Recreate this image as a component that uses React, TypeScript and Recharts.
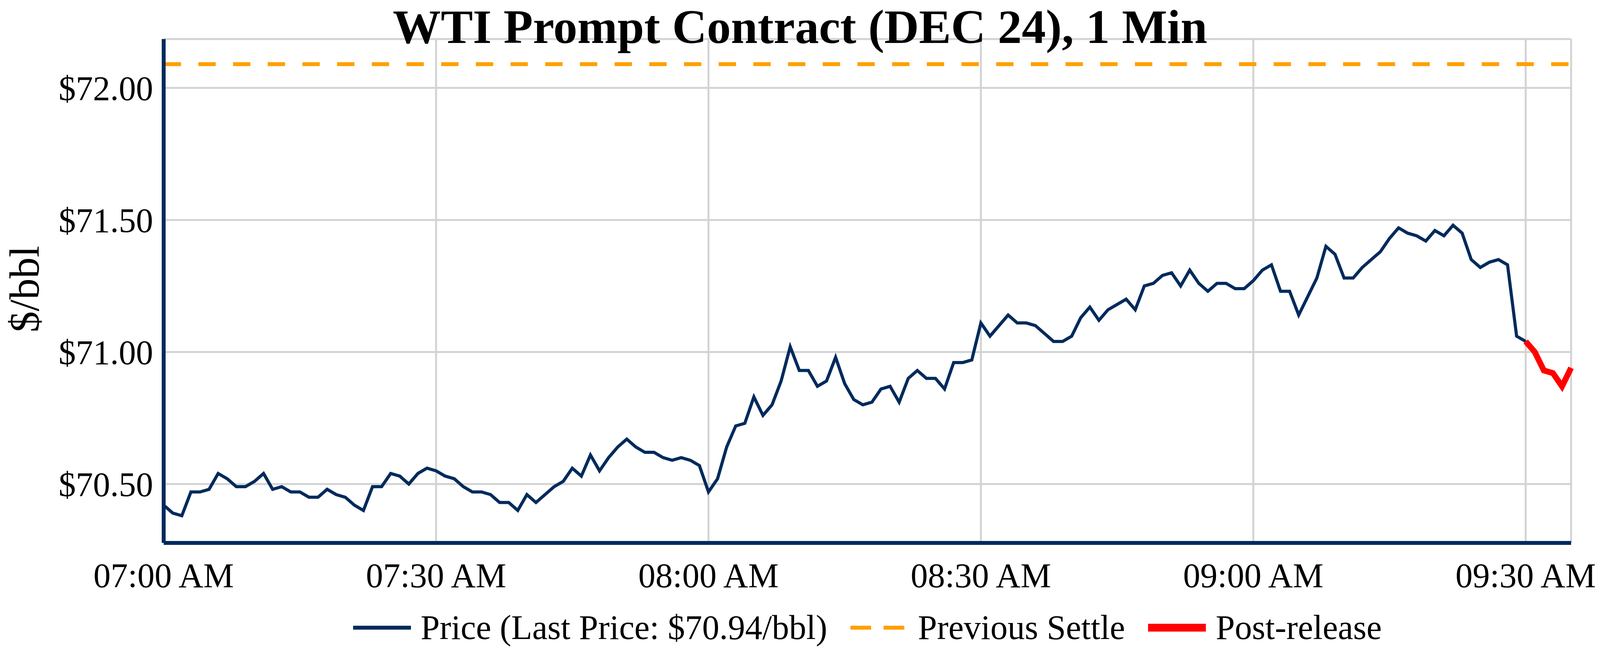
import React from "react";
import {
  LineChart,
  Line,
  XAxis,
  YAxis,
  CartesianGrid,
  ReferenceLine,
} from "recharts";

// 1-minute prices from 07:00 (minute 0) to 09:30 (minute 150)
const PRICE = [
  70.42, 70.39, 70.38, 70.47, 70.47, 70.48, 70.54, 70.52, 70.49, 70.49,
  70.51, 70.54, 70.48, 70.49, 70.47, 70.47, 70.45, 70.45, 70.48, 70.46,
  70.45, 70.42, 70.4, 70.49, 70.49, 70.54, 70.53, 70.5, 70.54, 70.56,
  70.55, 70.53, 70.52, 70.49, 70.47, 70.47, 70.46, 70.43, 70.43, 70.4,
  70.46, 70.43, 70.46, 70.49, 70.51, 70.56, 70.53, 70.61, 70.55, 70.6,
  70.64, 70.67, 70.64, 70.62, 70.62, 70.6, 70.59, 70.6, 70.59, 70.57,
  70.47, 70.52, 70.64, 70.72, 70.73, 70.83, 70.76, 70.8, 70.89, 71.02,
  70.93, 70.93, 70.87, 70.89, 70.98, 70.88, 70.82, 70.8, 70.81, 70.86,
  70.87, 70.81, 70.9, 70.93, 70.9, 70.9, 70.86, 70.96, 70.96, 70.97,
  71.11, 71.06, 71.1, 71.14, 71.11, 71.11, 71.1, 71.07, 71.04, 71.04,
  71.06, 71.13, 71.17, 71.12, 71.16, 71.18, 71.2, 71.16, 71.25, 71.26,
  71.29, 71.3, 71.25, 71.31, 71.26, 71.23, 71.26, 71.26, 71.24, 71.24,
  71.27, 71.31, 71.33, 71.23, 71.23, 71.14, 71.21, 71.28, 71.4, 71.37,
  71.28, 71.28, 71.32, 71.35, 71.38, 71.43, 71.47, 71.45, 71.44, 71.42,
  71.46, 71.44, 71.48, 71.45, 71.35, 71.32, 71.34, 71.35, 71.33, 71.06,
  71.04,
];

// post-release prices, 09:30 to 09:35
const POST_START = 150;
const POST_RELEASE = [71.04, 71.0, 70.93, 70.92, 70.87, 70.94];

const PREVIOUS_SETTLE = 72.09;
const LAST_PRICE = 70.94;

const TICK_MINUTES = [0, 30, 60, 90, 120, 150];
const TICK_LABELS = ["07:00 AM", "07:30 AM", "08:00 AM", "08:30 AM", "09:00 AM", "09:30 AM"];
const Y_TICKS = [70.5, 71.0, 71.5, 72.0];

const NAVY = "#002a5c";
const ORANGE = "#ffa000";
const RED = "#ff0000";
const GRID = "#d3d3d3";
const FONT = "'Liberation Serif', 'Times New Roman', serif";

// the browser viewport is 4096 wide
const W = 4096;
const H = 1700;
const AXIS_W = 419;
const RIGHT = 74;

const data = PRICE.map((p, i) => ({ minute: i, price: p as number | null, post: null as number | null }));
POST_RELEASE.forEach((v, j) => {
  const m = POST_START + j;
  if (data[m]) data[m].post = v;
  else data.push({ minute: m, price: null, post: v });
});

function LegendItem({ label, swatch }: { label: string; swatch: React.ReactNode }) {
  return (
    <div style={{ display: "flex", alignItems: "center", marginRight: 59 }}>
      <svg width={148} height={24} style={{ marginRight: 25, display: "block" }}>
        {swatch}
      </svg>
      <span>{label}</span>
    </div>
  );
}

export default function App() {
  return (
    <div style={{ position: "absolute", left: 0, top: 0, width: W, height: H, background: "#fff", overflow: "hidden" }}>
      <LineChart
        width={W}
        height={H}
        data={data}
        margin={{ top: 100, right: RIGHT, bottom: 0, left: 0 }}
      >
        <CartesianGrid stroke={GRID} strokeWidth={5} />
        <XAxis
          dataKey="minute"
          type="number"
          domain={[0, 155]}
          ticks={TICK_MINUTES}
          interval={0}
          tickFormatter={(v: number) => TICK_LABELS[TICK_MINUTES.indexOf(v)]}
          tick={{ fontSize: 88, fill: "#000", fontFamily: FONT }}
          tickLine={false}
          tickSize={0}
          tickMargin={51}
          axisLine={{ stroke: NAVY, strokeWidth: 10 }}
          height={310}
        />
        <YAxis
          type="number"
          domain={[70.277, 72.185]}
          allowDataOverflow
          ticks={Y_TICKS}
          interval={0}
          tickFormatter={(v: number) => `$${v.toFixed(2)}`}
          tick={{ fontSize: 88, fill: "#000", fontFamily: FONT }}
          tickLine={false}
          tickSize={0}
          tickMargin={27}
          axisLine={{ stroke: NAVY, strokeWidth: 10 }}
          width={AXIS_W}
        />
        <ReferenceLine
          y={PREVIOUS_SETTLE}
          stroke={ORANGE}
          strokeWidth={10}
          strokeDasharray="44.4 44.4"
        />
        <Line
          type="linear"
          dataKey="price"
          stroke={NAVY}
          strokeWidth={8}
          dot={false}
          activeDot={false}
          isAnimationActive={false}
        />
        <Line
          type="linear"
          dataKey="post"
          stroke={RED}
          strokeWidth={15}
          dot={false}
          activeDot={false}
          isAnimationActive={false}
        />
      </LineChart>

      <svg
        width={W}
        height={H}
        style={{ position: "absolute", left: 0, top: 0, pointerEvents: "none" }}
      >
        <text
          x={W / 2}
          y={110}
          textAnchor="middle"
          fontFamily={FONT}
          fontWeight="bold"
          fontSize={123}
          fill="#000"
        >
          WTI Prompt Contract (DEC 24), 1 Min
        </text>
        <text
          x={99}
          y={740}
          textAnchor="middle"
          fontFamily={FONT}
          fontSize={108}
          fill="#000"
          transform="rotate(-90, 99, 740)"
        >
          $/bbl
        </text>
      </svg>

      <div
        style={{
          position: "absolute",
          left: AXIS_W,
          width: W - AXIS_W - RIGHT,
          top: 1563,
          height: 88,
          display: "flex",
          justifyContent: "center",
          alignItems: "center",
          fontFamily: FONT,
          fontSize: 88,
          lineHeight: "88px",
          color: "#000",
          whiteSpace: "nowrap",
          paddingLeft: 59,
          boxSizing: "border-box",
        }}
      >
        <LegendItem
          label={`Price (Last Price: $${LAST_PRICE.toFixed(2)}/bbl)`}
          swatch={<line x1={0} y1={12} x2={148} y2={12} stroke={NAVY} strokeWidth={10} />}
        />
        <LegendItem
          label="Previous Settle"
          swatch={
            <line x1={0} y1={12} x2={138} y2={12} stroke={ORANGE} strokeWidth={10} strokeDasharray="53 32" />
          }
        />
        <LegendItem
          label="Post-release"
          swatch={<line x1={0} y1={12} x2={148} y2={12} stroke={RED} strokeWidth={20} />}
        />
      </div>
    </div>
  );
}
